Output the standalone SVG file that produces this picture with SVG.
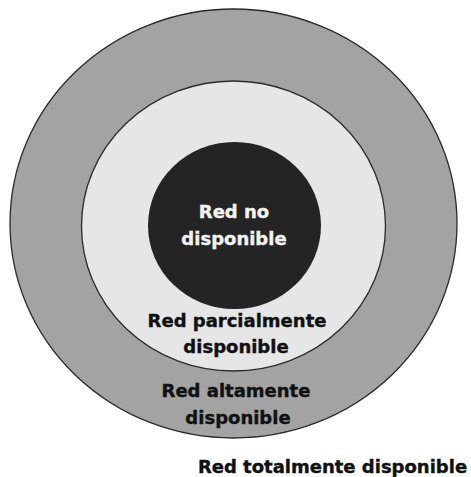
<svg xmlns="http://www.w3.org/2000/svg" width="471" height="477" viewBox="0 0 471 477">
<style>
.ring{stroke:#2a2a2a;stroke-width:1.3}
.t{font-family:"DejaVu Sans","Liberation Sans",sans-serif;font-weight:bold;font-size:18px;text-anchor:middle;stroke-width:0.4}
.dk{fill:#111111;stroke:#111111}
.lt{fill:#f2f2f2;stroke:#f2f2f2}
</style>
<rect width="471" height="477" fill="#ffffff"/>
<g id="total">
<ellipse class="ring" cx="233.5" cy="223.5" rx="223.5" ry="214.5" fill="#a3a3a3"/>
</g>
<g id="alta">
<ellipse class="ring" cx="233.5" cy="226" rx="152" ry="145" fill="#e6e6e6"/>
</g>
<g id="nodisp">
<ellipse cx="234.5" cy="225.5" rx="86.5" ry="83.5" fill="#242424"/>
</g>
<g id="labels">
<text class="t lt" x="234" y="218">Red no</text>
<text class="t lt" x="234" y="245">disponible</text>
<text class="t dk" x="237" y="327">Red parcialmente</text>
<text class="t dk" x="236" y="353">disponible</text>
<text class="t dk" x="236" y="397">Red altamente</text>
<text class="t dk" x="238" y="424">disponible</text>
<text class="t dk" x="332.5" y="473">Red totalmente disponible</text>
</g>
<g id="connectors"></g>
</svg>
